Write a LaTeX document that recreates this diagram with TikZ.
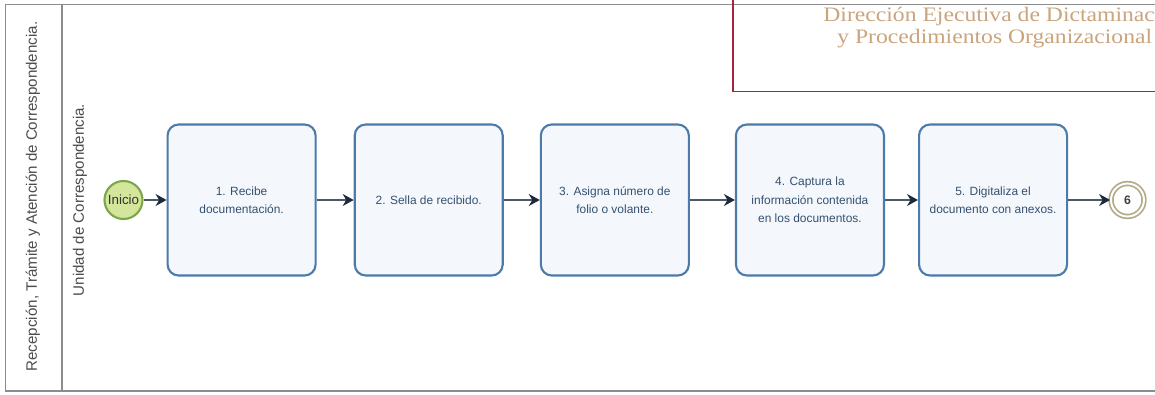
\documentclass[tikz,border=0pt]{standalone}
\usepackage{fontspec}
\setmainfont{Liberation Sans}
\newfontfamily\encabezado[FakeStretch=1.15]{Liberation Serif}
\usetikzlibrary{positioning}
\usetikzlibrary{arrows.meta}

\definecolor{bordetarea}{HTML}{4C7AAA}
\definecolor{fondotarea}{HTML}{F4F8FC}
\definecolor{textotarea}{HTML}{34506F}
\definecolor{lineaflujo}{HTML}{4A5868}
\definecolor{puntaflujo}{HTML}{1C2A3C}
\definecolor{verdeinicio}{HTML}{D4E59C}
\definecolor{bordeinicio}{HTML}{7DA64A}
\definecolor{bordefin}{HTML}{B3AC8A}
\definecolor{marco}{HTML}{8C8C8C}
\definecolor{rojomarco}{HTML}{A3263F}
\definecolor{oro}{HTML}{C9A47C}

\begin{document}
\begin{tikzpicture}[
         tarea/.style = {draw=bordetarea, line width=1.2pt, fill=fondotarea,
            rounded corners=0.22cm, minimum width=2.96cm, minimum height=3.02cm,
            align=center, text=textotarea, font=\fontsize{6.8}{10.5}\selectfont},
         flujo/.style = {draw=lineaflujo, line width=0.8pt,
            -{Stealth[length=0.22cm, width=0.24cm, color=puntaflujo]}},
         carril/.style = {rotate=90, text=black!70, font=\fontsize{8.6}{10}\selectfont},
         inicio/.style = {circle, draw=bordeinicio, line width=1.2pt, fill=verdeinicio,
            minimum size=0.76cm, inner sep=0pt, text=black!80,
            font=\fontsize{7.6}{9}\selectfont},
         fin/.style = {circle, draw=bordefin, line width=1.0pt, double=white,
            double distance=1.1pt, minimum size=0.66cm, inner sep=0pt,
            font=\bfseries\fontsize{7}{8}\selectfont, text=black!75},
         titulo/.style = {text=oro, anchor=base west, inner sep=0pt,
            font=\encabezado\fontsize{11.7}{12.2}\selectfont}
]
   \clip (0,0) rectangle (23.1,-7.88);

   % carriles
   \draw[marco, line width=0.6pt] (23.3,-0.09) -- (0.11,-0.09) -- (0.11,-7.82) -- (23.3,-7.82);
   \draw[marco, line width=0.6pt] (1.24,-0.09) -- (1.24,-7.82);
   \node[carril] (pool) at (0.66,-3.93) {Recepción, Trámite y Atención de Correspondencia.};
   \node[carril] (lane) at (1.60,-4.0) {Unidad de Correspondencia.};

   % encabezado
   \draw[rojomarco, line width=1.1pt] (14.66,0.2) -- (14.66,-1.83) -- (23.3,-1.83);
   \node[titulo] (tit1) at (16.46,-0.434) {Dirección Ejecutiva de Dictaminac};
   \node[titulo] (tit2) at (16.74,-0.864) {y Procedimientos Organizacional};

   % flujo
   \node[inicio]                    (ini) at (2.47,-4.0) {Inicio};
   \node[tarea, right=0.46cm of ini] (t1) {1. Recibe\\documentación.};
   \node[tarea, right=0.74cm of t1]  (t2) {2. Sella de recibido.};
   \node[tarea, right=0.72cm of t2]  (t3) {3. Asigna número de\\folio o volante.};
   \node[tarea, right=0.90cm of t3]  (t4) {4. Captura la\\información contenida\\en los documentos.};
   \node[tarea, right=0.66cm of t4]  (t5) {5. Digitaliza el\\documento con anexos.};
   \node[fin, right=0.84cm of t5]    (t6) {6};

   \draw[flujo] (ini) -- (t1);
   \draw[flujo] (t1) -- (t2);
   \draw[flujo] (t2) -- (t3);
   \draw[flujo] (t3) -- (t4);
   \draw[flujo] (t4) -- (t5);
   \draw[flujo] (t5) -- (t6);
\end{tikzpicture}
\end{document}
